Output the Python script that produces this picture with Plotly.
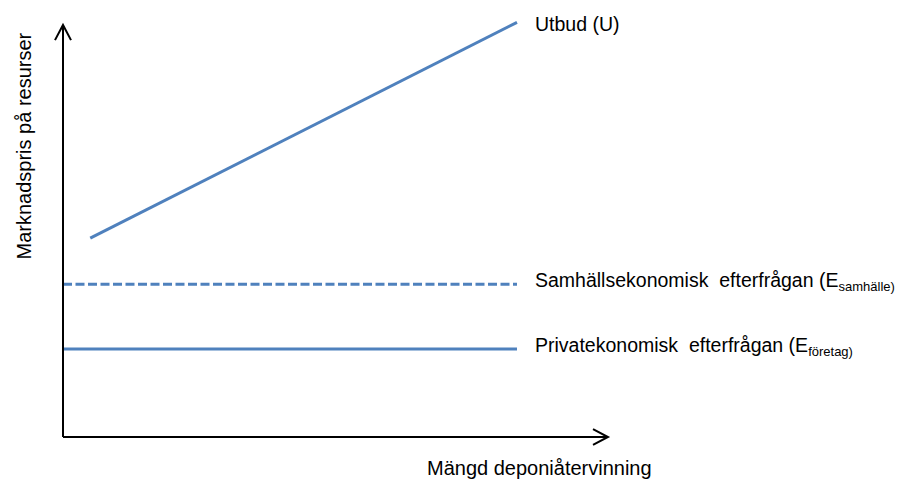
import plotly.graph_objects as go

# Data (abstract units: quantity on x, price on y)
supply_x = [0.5, 8.33]
supply_y = [4.83, 10.07]
social_x = [0.0, 8.33]
social_y = [3.71, 3.71]
private_x = [0.0, 8.33]
private_y = [2.14, 2.14]

SUB = '<sub><span style="font-size:13px">{}</span></sub>'
label_supply = "Utbud (U)"
label_social = "Samhällsekonomisk\u00a0 efterfrågan (E" + SUB.format("samhälle)")
label_private = "Privatekonomisk\u00a0 efterfrågan (E" + SUB.format("företag)")
x_title = "Mängd deponiåtervinning"
y_title = "Marknadspris på resurser"

BLUE = "#4f81bd"
FONT = "Liberation Sans, Arial, sans-serif"

fig = go.Figure()
fig.add_trace(go.Scatter(x=supply_x, y=supply_y, mode="lines",
                         line=dict(color=BLUE, width=3), hoverinfo="skip"))
fig.add_trace(go.Scatter(x=social_x, y=social_y, mode="lines",
                         line=dict(color=BLUE, width=3, dash="9px,3.5px"), hoverinfo="skip"))
fig.add_trace(go.Scatter(x=private_x, y=private_y, mode="lines",
                         line=dict(color=BLUE, width=3), hoverinfo="skip"))

lab_x = 0.8624
for txt, yy in [(label_supply, 0.983), (label_social, 0.3706), (label_private, 0.2147)]:
    fig.add_annotation(xref="paper", yref="paper", x=lab_x, y=yy, text=txt,
                       xanchor="left", yanchor="middle", showarrow=False,
                       font=dict(size=19.5, color="#000", family=FONT))

fig.add_annotation(xref="paper", yref="paper", x=0.875, y=-0.074, text=x_title, showarrow=False,
                   xanchor="center", yanchor="middle", font=dict(size=20, color="#000", family=FONT))
fig.add_annotation(xref="paper", yref="paper", x=-0.0716, y=0.694, text=y_title, showarrow=False,
                   textangle=-90, xanchor="center", yanchor="middle",
                   font=dict(size=20, color="#000", family=FONT))

# Axes with arrow chevrons (paper coordinates)
ax_line = dict(color="black", width=2)
fig.add_shape(type="line", xref="paper", yref="paper", x0=0, y0=0, x1=0, y1=0.981, line=ax_line)
fig.add_shape(type="line", xref="paper", yref="paper", x0=0, y0=0, x1=1, y1=0, line=ax_line)
fig.add_shape(type="path", xref="paper", yref="paper",
              path="M -0.0147 0.945 L 0 0.981 L 0.0147 0.945", line=ax_line)
fig.add_shape(type="path", xref="paper", yref="paper",
              path="M 0.9725 0.019 L 1 0 L 0.9725 -0.019", line=ax_line)

fig.update_layout(
    width=900, height=474,
    margin=dict(l=55, r=300, t=9, b=45),
    paper_bgcolor="white", plot_bgcolor="white",
    showlegend=False,
    xaxis=dict(range=[0, 10], showline=False, showgrid=False, zeroline=False,
               showticklabels=False, ticks="", fixedrange=True),
    yaxis=dict(range=[0, 10.2], showline=False, showgrid=False, zeroline=False,
               showticklabels=False, ticks="", fixedrange=True),
)

fig.write_html("out.html")
